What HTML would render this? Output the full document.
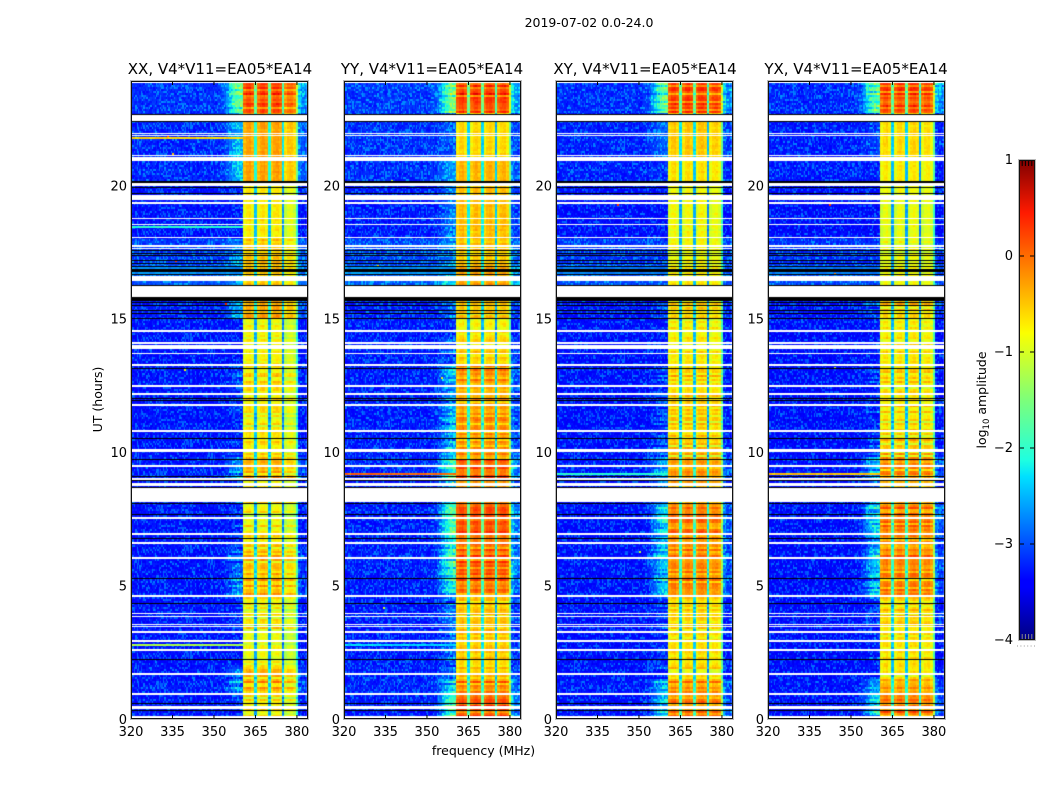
<!DOCTYPE html>
<html>
<head>
<meta charset="utf-8">
<title>2019-07-02 amplitude waterfall</title>
<style>
html,body{margin:0;padding:0;background:#fff;}
#figure{position:relative;width:1050px;height:800px;overflow:hidden;background:#fff;}
canvas{position:absolute;display:block;}
svg{position:absolute;left:0;top:0;}
text{font-family:"DejaVu Sans","Liberation Sans",sans-serif;fill:#000;}
</style>
</head>
<body>
<div id="figure">
<canvas id="p0" width="177" height="638" style="left:131px;top:81px"></canvas>
<canvas id="p1" width="177" height="638" style="left:344px;top:81px"></canvas>
<canvas id="p2" width="177" height="638" style="left:556px;top:81px"></canvas>
<canvas id="p3" width="177" height="638" style="left:768px;top:81px"></canvas>
<svg id="overlay" width="1050" height="800" viewBox="0 0 1050 800">
  <defs>
    <linearGradient id="jet" x1="0" y1="1" x2="0" y2="0">
      <stop offset="0" stop-color="#000080"/><stop offset="0.11" stop-color="#0000ff"/>
      <stop offset="0.125" stop-color="#0000ff"/><stop offset="0.34" stop-color="#00e0ff"/>
      <stop offset="0.375" stop-color="#1fffe0"/><stop offset="0.5" stop-color="#7dff7a"/>
      <stop offset="0.64" stop-color="#fbff00"/><stop offset="0.66" stop-color="#ffec00"/>
      <stop offset="0.89" stop-color="#ff1a00"/><stop offset="1" stop-color="#800000"/>
    </linearGradient>
  </defs>
  <text x="589" y="27" font-size="12.5" text-anchor="middle">2019-07-02 0.0-24.0</text>
  <text x="220" y="74" font-size="15" text-anchor="middle">XX, V4*V11=EA05*EA14</text>
  <text x="432" y="74" font-size="15" text-anchor="middle">YY, V4*V11=EA05*EA14</text>
  <text x="645" y="74" font-size="15" text-anchor="middle">XY, V4*V11=EA05*EA14</text>
  <text x="856" y="74" font-size="15" text-anchor="middle">YX, V4*V11=EA05*EA14</text>
  <text x="483.5" y="755" font-size="12.5" text-anchor="middle">frequency (MHz)</text>
  <text transform="translate(102,399.5) rotate(-90)" font-size="12.5" text-anchor="middle">UT (hours)</text>
  <text transform="translate(986,400) rotate(-90)" font-size="12.5" text-anchor="middle">log<tspan font-size="8.5" dy="3">10</tspan><tspan dy="-3"> amplitude</tspan></text>
  <g id="axes"></g>
  <rect x="1019" y="160" width="16" height="480" fill="url(#jet)"/>
  <g id="cbar"></g>
  <rect x="1018.5" y="159.5" width="17" height="481" fill="none" stroke="#bbb" stroke-width="1"/>
  <rect x="1019.5" y="160.5" width="15" height="479" fill="none" stroke="#111" stroke-width="1"/>
  <line x1="1017" y1="646" x2="1035" y2="646" stroke="#999" stroke-width="1" stroke-dasharray="1 2.4"/>
</svg>
</div>
<script>
// ---- chart data ----
const freqTicks = [320, 335, 350, 365, 380];
const hourTicks = [0, 5, 10, 15, 20];
const cbarTicks = [-4, -3, -2, -1, 0, 1];
// time segments (start hour) and the band level (log10 above yellow) per polarisation
const segmentStarts = [0,.9,1.5,2,3.3,4.6,5.2,6.4,7,8.1,9,9.8,10.8,11.5,12.6,13.3,14.4,15,15.8,17,18,20,21,22.7];
const levelsXX = [.15,.45,.35,.05,.15,.45,.4,.25,.1,.3,.45,.25,.1,.25,.25,.15,.1,.55,.4,.4,.2,.6,.6,1.0];
const levelsYY = [.95,.7,.3,.35,.4,.8,.9,.8,1.0,.6,.9,.55,.65,.55,.65,.3,.15,.35,.55,.4,.45,.5,.3,1.05];
const levelsXY = [.7,.6,.3,.25,.3,.7,.7,.65,.75,.5,.6,.3,.3,.35,.3,.2,.15,.25,.2,.1,.1,.25,.4,1.0];
const levelsYX = [.75,.55,.2,.25,.3,.7,.7,.6,.75,.5,.65,.3,.2,.25,.3,.2,.15,.3,.1,.05,.05,.2,.3,1.0];
const stripeStrength = [.4,.45,.4,.22,.35,.4,.4,.4,.4,.2,.45,.4,.35,.35,.35,.22,.22,.35,.12,.2,.1,.06,.06,.45];
const backgroundLift = [0,.05,0,0,0,0,0,0,0,0,.05,0,0,0,0,0,0,.05,.35,.22,0,.1,.1,.15];
const panelBackground = [0,.03,-.03,-.05];
const lastSubbandTilt = [-.2,0,-.05,-.05];
const stripePattern = [.6,.2,-.7,.4,.7,-.3,-.9,.3,.1,.8,-.5,.2,.6,-.8,.3,.5,-.2,-.6,.7,.1,-.4,.8,-.7,.2];
const stripePatternB = [-.3,.8,.1,-.6,.4,-.9,.7,.2,-.2,.5,-.7,.9,-.4,.3,-.1,.6,-.8];
const cellTexture = [.3,-.6,.9,-.2,.5,-.9,.1,.7,-.4,-.7,.8,.2,-.3,.6,-1,.4,-.1,.9,-.5,.2,-.8,.6,.1,-.6,.3,1,-.4,-.2,.7,-.9,.5,0,-.7,.8,-.3,.4,-.5,.2,.9,-.8,.1,-.1,.6,-.6,.3,-.9,.7,-.2,.5,-.4,.8,-.7,.2];
// per-channel shapes: 320..383 MHz
const shoulderWeights = [0,0,0,0,0,0,0,0,0,0,0,0,0,0,0,0,0,0,0,0,0,0,0,0,0,0,0,0,0,0,0,0,.05,.1,.2,.35,.6,.8,.95,1,1.05,1.1,0,0,0,0,0,0,0,0,0,0,0,0,0,0,0,0,0,0,0,.6,.35,.3];
const bandOffsets = [null,null,null,null,null,null,null,null,null,null,null,null,null,null,null,null,null,null,null,null,null,null,null,null,null,null,null,null,null,null,null,null,null,null,null,null,null,null,null,null,null,-.2,-.05,0,-.18,-1.8,-.22,-.05,0,-.12,-1.8,-.22,-.05,0,-.12,-2.0,-.22,-.05,-.02,-.18,-1.1,null,null,null];
// fully flagged (white) and zero-valued (black) time ranges, hours
const whiteStart = [0,.39,.9,1.67,2.55,2.89,3.22,3.45,3.52,3.82,3.92,4.59,5.99,6.54,6.91,7.51,8.13,8.7,8.97,9.47,10,10.76,11.74,12.15,12.44,13.24,13.65,13.87,13.97,14.08,14.53,15.82,16.43,17.59,17.7,18.03,18.52,18.74,19.33,19.45,19.95,20.89,21.08,21.84,21.93,22.41,23.83];
const whiteEnd   = [.11,.5,.97,1.74,2.62,2.96,3.3,3.49,3.56,3.86,3.97,4.66,6.07,6.62,6.97,7.57,8.64,8.83,9.03,9.53,10.12,10.83,11.8,12.22,12.5,13.3,13.7,13.93,14.03,14.14,14.59,16.24,16.62,17.64,17.76,18.08,18.56,18.78,19.39,19.64,20.07,21.05,21.12,21.88,21.97,22.62,23.91];
const blackStart = [.3,.56,2.21,4.29,5.24,6.76,7.66,8.08,8.66,8.94,9.05,9.71,10.49,11.9,11.99,13.12,14.97,15.2,15.3,15.48,15.59,15.65,16.25,16.62,16.77,16.96,17.05,17.15,17.35,17.45,17.53,19.7,19.93,20.1,22.36,22.64];
const blackEnd   = [.34,.6,2.25,4.33,5.28,6.8,7.7,8.11,8.7,8.97,9.09,9.75,10.53,11.94,12.03,13.16,15.02,15.23,15.33,15.51,15.62,15.81,16.28,16.66,16.87,16.98,17.08,17.19,17.39,17.47,17.57,19.73,19.95,20.17,22.41,22.68];
// interference rows: panel, hour, value across the off-band channels
const rfiPanels = [0,0,0,1,1,2,3,3,0,1,2,3,0,1,2,3];
const rfiHours  = [2.78,21.78,18.42,9.2,2.78,9.2,9.2,9.5,16.7,16.7,16.7,16.7,16.9,16.9,16.9,16.9];
const rfiValues = [-1.2,-.6,-2,0,-2.3,-2,-.5,-.8,-2.65,-2.6,-2.75,-2.75,-2.7,-2.65,-2.8,-2.8];
// isolated hot cells: panel, MHz, hour, value
const spotPanels = [0,0,0,0,1,1,1,2,3,3,0,1,2,3,0,1];
const spotFreqs  = [333,335,339,354,337,355,332,342,342,344,336,359,350,344,356,334];
const spotHours  = [21.9,21.2,13.1,15.6,20.2,12.8,17,19.3,19.3,13.2,17.2,8.9,6.3,16.7,11.8,4.2];
const spotValues = [.2,-.5,-.8,.4,-1,-.9,-.6,.3,.3,-1,.2,-1.1,-1.1,-.2,-.9,-1];

// ---- scales ----
const plotW = 177, plotH = 638;
const panelLeft = [131, 344, 556, 768];
const panelLevels = [levelsXX, levelsYY, levelsXY, levelsYX];
const F0 = 320, F1 = 384, H1 = 23.91;
function xScale(mhz){ return (mhz - F0) / (F1 - F0) * plotW; }
function yScale(hour){ return plotH - hour / H1 * plotH; }
function cbarY(v){ return 640 - (v + 4) / 5 * 480; }
function lerp(t, pts){
  for (let i = 1; i < pts.length; i++) {
    if (t <= pts[i][0]) {
      const a = pts[i-1], b = pts[i];
      return a[1] + (b[1]-a[1]) * (t-a[0]) / (b[0]-a[0]);
    }
  }
  return pts[pts.length-1][1];
}
function jet(v){
  const t = Math.max(0, Math.min(1, (v + 4) / 5));
  const r = lerp(t, [[0,0],[.35,0],[.66,1],[.89,1],[1,.5]]);
  const g = lerp(t, [[0,0],[.125,0],[.375,1],[.64,1],[.91,0],[1,0]]);
  const b = lerp(t, [[0,.5],[.11,1],[.34,1],[.65,0],[1,0]]);
  return 'rgb(' + Math.round(r*255) + ',' + Math.round(g*255) + ',' + Math.round(b*255) + ')';
}
function segmentOf(hour){
  let s = 0;
  for (let i = 0; i < segmentStarts.length; i++) if (hour >= segmentStarts[i]) s = i;
  return s;
}
const ROW_H = 0.075;
function cellValue(p, ch, sub, row){
  const hour = (row + .5) * ROW_H;
  const s = segmentOf(hour);
  const L = panelLevels[p][s];
  const mixA = stripePattern[(row + p * 3) % stripePattern.length];
  const mixB = stripePatternB[(row + p * 5) % stripePatternB.length];
  const stripe = (mixA + mixB) * .6 * stripeStrength[s];
  const tex = cellTexture[(sub * sub * 3 + row * row * 5 + sub * row * 7 + sub * 11 + row * 13 + p * 19) % cellTexture.length];
  const offs = bandOffsets[ch];
  if (offs !== null) {
    const sub4 = (ch >= 56) ? lastSubbandTilt[p] : 0;
    return -.85 + L + stripe + offs + sub4 + tex * .09;
  }
  const lift = Math.max(0, L + stripe * .8 - .2) * 1.7 * shoulderWeights[ch];
  return -3.3 + panelBackground[p] + backgroundLift[s] + lift + (tex > .5 ? tex * .55 : tex * .2);
}
function drawPanel(p){
  const ctx = document.getElementById('p' + p).getContext('2d');
  ctx.fillStyle = '#fff';
  ctx.fillRect(0, 0, plotW, plotH);
  const rows = Math.floor(H1 / ROW_H);
  for (let row = 0; row < rows; row++) {
    const y0 = Math.round(yScale((row + 1) * ROW_H));
    const y1 = Math.round(yScale(row * ROW_H));
    for (let sub = 0; sub < bandOffsets.length * 2; sub++) {
      const ch = Math.floor(sub / 2);
      const x0 = Math.round(xScale(F0 + sub / 2 - .5));
      const x1 = Math.round(xScale(F0 + sub / 2));
      ctx.fillStyle = jet(cellValue(p, ch, sub, row));
      ctx.fillRect(Math.max(0, x0), y0, x1 - Math.max(0, x0), y1 - y0);
    }
  }
  // interference rows
  rfiHours.forEach(function(h, i){
    if (rfiPanels[i] !== p) return;
    const y = Math.round(yScale(h));
    for (let ch = 0; ch < 41; ch++) {
      const x0 = Math.round(xScale(F0 + ch - .5));
      const x1 = Math.round(xScale(F0 + ch + .5));
      ctx.fillStyle = jet(rfiValues[i] + cellTexture[(ch * 7) % cellTexture.length] * .12);
      ctx.fillRect(Math.max(0, x0), y - 1, x1 - Math.max(0, x0), 2);
    }
  });
  spotHours.forEach(function(h, i){
    if (spotPanels[i] !== p) return;
    ctx.fillStyle = jet(spotValues[i]);
    ctx.fillRect(Math.round(xScale(spotFreqs[i])), Math.round(yScale(h)), 2, 2);
  });
  blackStart.forEach(function(h, i){
    const y0 = Math.round(yScale(blackEnd[i]));
    const dh = Math.round(yScale(h) - yScale(blackEnd[i]));
    ctx.fillStyle = '#000';
    ctx.fillRect(0, y0, plotW, Math.max(1, dh));
  });
  whiteStart.forEach(function(h, i){
    const y0 = Math.round(yScale(whiteEnd[i]));
    const dh = Math.round(yScale(h) - yScale(whiteEnd[i]));
    ctx.fillStyle = '#fff';
    ctx.fillRect(0, y0, plotW, Math.max(1, dh));
  });
}
for (let p = 0; p < 4; p++) drawPanel(p);

// ---- axes ----
const NS = 'http://www.w3.org/2000/svg';
const axesG = document.getElementById('axes');
function line(parent, x1, y1, x2, y2, color, width){
  const el = document.createElementNS(NS, 'line');
  el.setAttribute('x1', x1); el.setAttribute('y1', y1);
  el.setAttribute('x2', x2); el.setAttribute('y2', y2);
  el.setAttribute('stroke', color); el.setAttribute('stroke-width', width);
  parent.appendChild(el);
  return el;
}
function label(parent, x, y, str, anchor){
  const el = document.createElementNS(NS, 'text');
  el.setAttribute('x', x); el.setAttribute('y', y);
  el.setAttribute('font-size', '13');
  el.setAttribute('text-anchor', anchor);
  el.textContent = str;
  parent.appendChild(el);
  return el;
}
panelLeft.forEach(function(left){
  const top = 81, bottom = top + plotH;
  freqTicks.forEach(function(f){
    const x = left + xScale(f);
    const tickB = line(axesG, x, bottom, x, bottom - 4, '#000', 1);
    
    
    const tickT = line(axesG, x, top, x, top + 4, '#000', 1);
    
    
    const tl = label(axesG, x, bottom + 17, String(f), 'middle');
    
    
  });
  hourTicks.forEach(function(h){
    const y = top + yScale(h);
    const tl = label(axesG, left - 4, y + 5, String(h), 'end');
    
    
  });
  const halo = document.createElementNS(NS, 'rect');
  halo.setAttribute('x', left - .5); halo.setAttribute('y', top - .5);
  halo.setAttribute('width', plotW + 1); halo.setAttribute('height', plotH + 1);
  halo.setAttribute('fill', 'none'); halo.setAttribute('stroke', '#bbb');
  halo.setAttribute('stroke-width', '1');
  
  
  axesG.appendChild(halo);
  const frame = document.createElementNS(NS, 'rect');
  frame.setAttribute('x', left + .5); frame.setAttribute('y', top + .5);
  frame.setAttribute('width', plotW - 1); frame.setAttribute('height', plotH - 1);
  frame.setAttribute('fill', 'none'); frame.setAttribute('stroke', '#111');
  frame.setAttribute('stroke-width', '1');
  
  
  axesG.appendChild(frame);
});
const cbarG = document.getElementById('cbar');
cbarTicks.forEach(function(v){
  const y = cbarY(v);
  if (v > -4 && v < 1) {
    const a = line(cbarG, 1019, y, 1024, y, '#000', 1);
    
    
    const b = line(cbarG, 1035, y, 1030, y, '#000', 1);
    
    
  }
  const t = label(cbarG, 1013, y + 4, String(v).replace('-', '\u2212'), 'end');
  
  
});
[1,2,3,4].forEach(function(i){
  const x = 1019 + i * 3.2;
  const a = line(cbarG, x, 160, x, 166, '#000', 1);
  
  
  const b = line(cbarG, x, 640, x, 634, '#888', 1);
  
  
});
</script>
</body>
</html>
